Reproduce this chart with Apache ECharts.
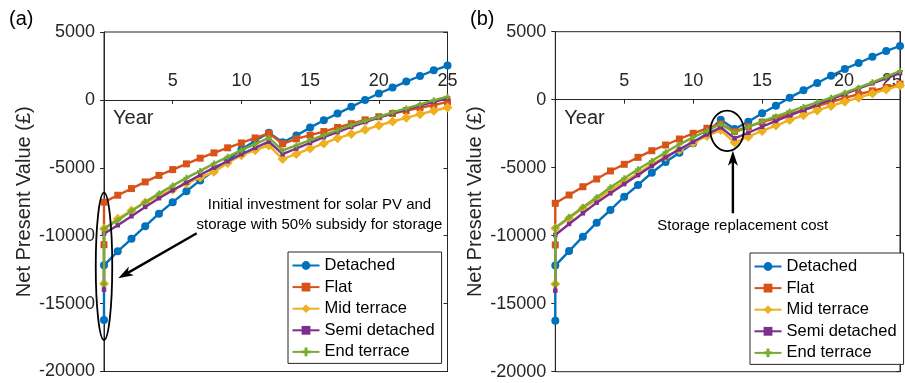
<!DOCTYPE html>
<html>
<head>
<meta charset="utf-8">
<script src="https://cdn.jsdelivr.net/npm/echarts@6/dist/echarts.min.js"></script>
<style>
  html, body { margin: 0; padding: 0; background: #fff; }
  #chart { width: 905px; height: 383px; }
</style>
</head>
<body>
<div id="chart"></div>
<script>
// Year of each point; year 0 appears twice (upfront cost, then net value after year 0)
const years = [0, 0, 1, 2, 3, 4, 5, 6, 7, 8, 9, 10, 11, 12, 13, 14, 15, 16, 17, 18, 19, 20, 21, 22, 23, 24, 25];

const seriesNames = ['Detached', 'Flat', 'Mid terrace', 'Semi detached', 'End terrace'];

// (a) 50% subsidy for storage
const detachedA = [-16200, -12180, -11150, -10230, -9300, -8380, -7530, -6730, -5930, -5220, -4450, -3650, -3000, -2420, -3120, -2620, -2040, -1500, -1010, -510, -10, 470, 910, 1350, 1760, 2180, 2530];
const flatA     = [-10660, -7530, -7020, -6530, -6040, -5560, -5130, -4710, -4290, -3900, -3530, -3170, -2800, -2460, -3230, -2870, -2600, -2330, -2030, -1750, -1470, -1240, -1000, -790, -580, -380, -150];
const midA      = [-13530, -9480, -8750, -8150, -7560, -7050, -6620, -6150, -5720, -5300, -4650, -4080, -3700, -3350, -4360, -3980, -3580, -3210, -2820, -2520, -2200, -1880, -1590, -1320, -1050, -800, -560];
const semiA     = [-13970, -9850, -9230, -8570, -7880, -7240, -6650, -6090, -5530, -4990, -4520, -4000, -3530, -3070, -4000, -3580, -3160, -2740, -2370, -1990, -1640, -1300, -1000, -700, -410, -140, 110];
const endA      = [-13530, -9480, -8870, -8180, -7510, -6900, -6310, -5740, -5230, -4690, -4190, -3700, -3260, -2790, -3720, -3350, -2960, -2600, -2230, -1860, -1540, -1240, -920, -630, -330, -20, 230];

// (b)
const detachedB = [-16250, -12200, -11130, -10070, -9040, -8110, -7130, -6270, -5370, -4580, -3900, -3210, -2470, -1470, -2150, -1620, -1000, -440, 150, 690, 1230, 1760, 2260, 2700, 3160, 3580, 3950];
const flatB     = [-10680, -7620, -7010, -6400, -5830, -5240, -4750, -4240, -3750, -3330, -2890, -2470, -2100, -1780, -2330, -1980, -1650, -1350, -1050, -760, -450, -170, 130, 400, 650, 900, 1150];
const midB      = [-13550, -9460, -8720, -7990, -7330, -6640, -6030, -5410, -4750, -4190, -3700, -3160, -2670, -2230, -3150, -2720, -2300, -1900, -1500, -1150, -800, -460, -150, 150, 450, 750, 1050];
const semiB     = [-14040, -9950, -9140, -8350, -7570, -6880, -6200, -5540, -4880, -4240, -3650, -3090, -2550, -2030, -2840, -2430, -1990, -1560, -1150, -760, -360, 20, 420, 820, 1200, 1570, 1950];
const endB      = [-13550, -9410, -8650, -7910, -7180, -6440, -5780, -5120, -4510, -3870, -3280, -2770, -2280, -1790, -2420, -2000, -1600, -1230, -870, -530, -190, 150, 520, 880, 1280, 1690, 2110];

const Y_MIN = -20000, Y_MAX = 5000, Y_STEP = 5000;
const X_MIN = 0, X_MAX = 25, X_STEP = 5;

const FONT = '"Liberation Sans", Arial, Helvetica, sans-serif';
const INK = '#262626';

const grids = [
  { left: 104, top: 32, width: 343.5, height: 339.5 },
  { left: 555.3, top: 31.7, width: 356.2, height: 340 }
];

const styles = [
  { color: '#0072BD', symbol: 'circle', size: 8 },
  { color: '#D95319', symbol: 'rect', size: 7 },
  { color: '#EDB120', symbol: 'diamond', size: 10 },
  { color: '#7E2F8E', symbol: 'rect', size: 4.5 },
  { color: '#77AC30', symbol: 'path://M2,0H4V2H6V4H4V6H2V4H0V2H2Z', size: 6 }
];

function makeSeries(values, panel) {
  return values.map((vals, i) => ({
    name: seriesNames[i],
    type: 'line',
    xAxisIndex: panel,
    yAxisIndex: panel * 2,
    data: vals.map((v, k) => [years[k], v]),
    symbol: styles[i].symbol,
    symbolSize: styles[i].size,
    lineStyle: { color: styles[i].color, width: 2.4 },
    itemStyle: { color: styles[i].color },
    emphasis: { disabled: true },
    z: 3 + i
  }));
}

// The year axis runs along the zero line: shift it down from the top edge of its grid
function xAxisFor(panel) {
  const g = grids[panel];
  const zeroOffset = -g.height * (Y_MAX - 0) / (Y_MAX - Y_MIN);
  return {
    type: 'value', gridIndex: panel, min: X_MIN, max: X_MAX, interval: X_STEP,
    position: 'top', offset: zeroOffset,
    name: 'Year', nameLocation: 'start', nameGap: -9,
    nameTextStyle: { fontFamily: FONT, fontSize: 20, color: INK, align: 'left', verticalAlign: 'top', padding: [9, 0, 0, 0] },
    axisLine: { show: true, onZero: false, lineStyle: { color: INK, width: 1 } },
    axisTick: { show: true, inside: true, length: 4, lineStyle: { color: INK } },
    splitLine: { show: false },
    axisLabel: {
      fontFamily: FONT, fontSize: 18, color: INK, margin: 10,
      formatter: v => {
        if (v === 0) return '';
        if (panel === 1 && v === 20) return '{r|20}';
        if (panel === 1 && v === 25) return '{l|25}';
        return String(v);
      },
      rich: {
        r: { fontFamily: FONT, fontSize: 18, color: INK, padding: [0, 0, 0, 26] },
        l: { fontFamily: FONT, fontSize: 18, color: INK, padding: [0, 16, 0, 0] }
      }
    }
  };
}

function yAxesFor(panel) {
  return [
    {
      type: 'value', gridIndex: panel, min: Y_MIN, max: Y_MAX, interval: Y_STEP, position: 'left',
      name: 'Net Present Value (£)', nameLocation: 'middle', nameGap: 70,
      nameTextStyle: { fontFamily: FONT, fontSize: 20, color: INK },
      axisLine: { show: true, onZero: false, lineStyle: { color: INK, width: 1 } },
      axisTick: { show: true, inside: false, length: 4, lineStyle: { color: INK } },
      splitLine: { show: false },
      axisLabel: { fontFamily: FONT, fontSize: 18, color: INK, margin: 9, formatter: v => String(v) }
    },
    {
      type: 'value', gridIndex: panel, min: Y_MIN, max: Y_MAX, interval: Y_STEP, position: 'right',
      axisLine: { show: true, onZero: false, lineStyle: { color: INK, width: 1 } },
      axisTick: { show: true, inside: true, length: 4, lineStyle: { color: INK } },
      splitLine: { show: false },
      axisLabel: { show: false }
    }
  ];
}

function legendAt(left, top) {
  return {
    left: left, top: top, orient: 'vertical',
    data: seriesNames,
    itemWidth: 27, itemHeight: 11, itemGap: 4.6,
    padding: [5, 7, 3, 3.5],
    borderColor: INK, borderWidth: 1, backgroundColor: '#fff',
    textStyle: { fontFamily: FONT, fontSize: 16.5, color: '#000' },
    selectedMode: false
  };
}

const chart = echarts.init(document.getElementById('chart'), null, { renderer: 'canvas' });

chart.setOption({
  animation: false,
  backgroundColor: '#fff',
  title: [
    { text: '(a)', left: 9, top: 9, padding: 0, textStyle: { fontFamily: FONT, fontSize: 20, fontWeight: 'normal', color: '#000' } },
    { text: '(b)', left: 470, top: 9, padding: 0, textStyle: { fontFamily: FONT, fontSize: 20, fontWeight: 'normal', color: '#000' } }
  ],
  grid: grids.map(g => Object.assign({ show: true, borderColor: INK, borderWidth: 1, backgroundColor: 'transparent', containLabel: false }, g)),
  xAxis: [xAxisFor(0), xAxisFor(1)],
  yAxis: [...yAxesFor(0), ...yAxesFor(1)],
  legend: [legendAt(288, 252), legendAt(750, 253)],
  series: [
    ...makeSeries([detachedA, flatA, midA, semiA, endA], 0),
    ...makeSeries([detachedB, flatB, midB, semiB, endB], 1)
  ]
});

// Callouts, anchored in data coordinates of each panel
const calloutA = {
  ring: { x: 0, top: -6830, bottom: -17680, halfYears: 0.6 },
  arrowFrom: [6.75, -9820], arrowTo: [1.04, -13140],
  text: [15.68, -8450],
  label: 'Initial investment for solar PV and\nstorage with 50% subsidy for storage'
};
const calloutB = {
  ring: { x: 12.46, top: -800, bottom: -3780, halfYears: 1.21 },
  arrowFrom: [12.88, -8350], arrowTo: [12.88, -3750],
  text: [13.6, -9250],
  label: 'Storage replacement cost'
};

function toPx(panel, pt) {
  return chart.convertToPixel({ xAxisIndex: panel, yAxisIndex: panel * 2 }, pt);
}

function arrowGraphics(from, to) {
  const dx = to[0] - from[0], dy = to[1] - from[1];
  const len = Math.hypot(dx, dy);
  const ux = dx / len, uy = dy / len;
  const nx = -uy, ny = ux;
  const headLen = 15, headHalf = 5, notch = 11;
  const base = [to[0] - ux * headLen, to[1] - uy * headLen];
  const inner = [to[0] - ux * notch, to[1] - uy * notch];
  return [
    { type: 'line', shape: { x1: from[0], y1: from[1], x2: inner[0], y2: inner[1] }, style: { stroke: '#000', lineWidth: 2.4 }, z: 50 },
    { type: 'polygon', shape: { points: [to, [base[0] + nx * headHalf, base[1] + ny * headHalf], inner, [base[0] - nx * headHalf, base[1] - ny * headHalf]] }, style: { fill: '#000' }, z: 50 }
  ];
}

function calloutGraphics(panel, c) {
  const topPx = toPx(panel, [c.ring.x, c.ring.top]);
  const botPx = toPx(panel, [c.ring.x, c.ring.bottom]);
  const sidePx = toPx(panel, [c.ring.x + c.ring.halfYears, c.ring.top]);
  const from = toPx(panel, c.arrowFrom);
  const to = toPx(panel, c.arrowTo);
  const tp = toPx(panel, c.text);
  return [
    { type: 'ellipse', shape: { cx: topPx[0], cy: (topPx[1] + botPx[1]) / 2, rx: sidePx[0] - topPx[0], ry: (botPx[1] - topPx[1]) / 2 },
      style: { fill: 'none', stroke: '#000', lineWidth: 1.8 }, z: 50 },
    ...arrowGraphics(from, to),
    { type: 'text', x: tp[0], y: tp[1], z: 50,
      style: { text: c.label, fontFamily: FONT, fontSize: 15, fill: '#000', align: 'center', verticalAlign: 'middle', lineHeight: 20 } }
  ];
}

chart.setOption({
  graphic: [...calloutGraphics(0, calloutA), ...calloutGraphics(1, calloutB)]
});
</script>
</body>
</html>
